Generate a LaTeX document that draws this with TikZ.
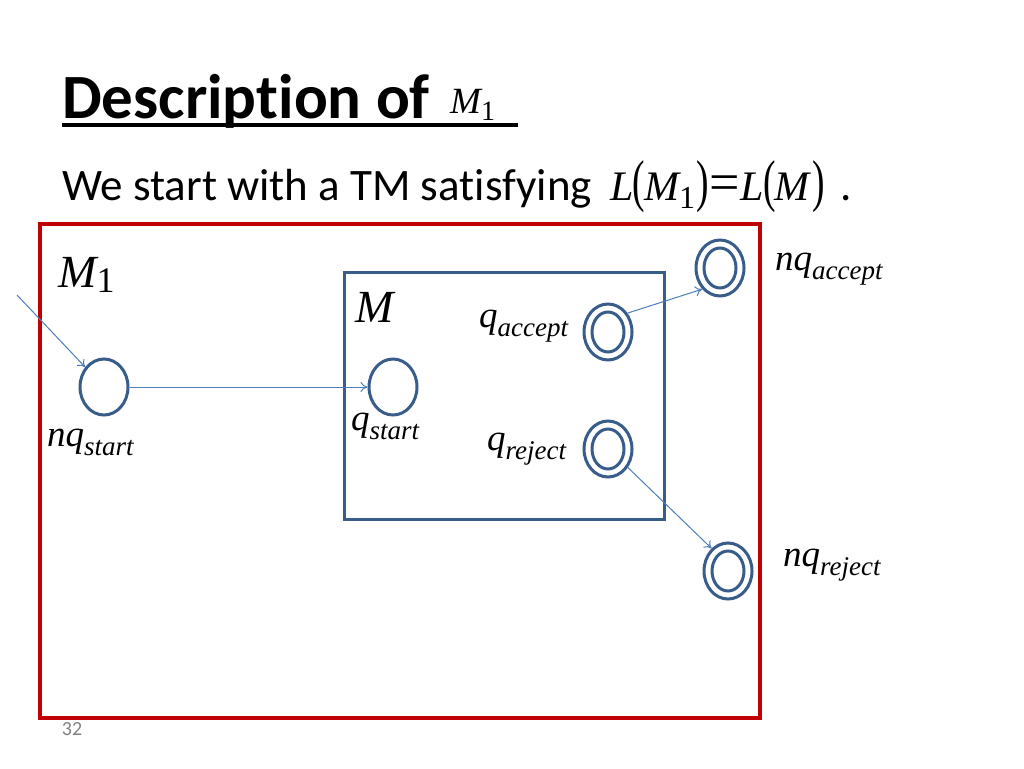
\documentclass[tikz,border=0pt]{standalone}
\usepackage{fontspec}
\setmainfont{Carlito}[Ligatures={NoCommon,NoContextual}]
\newfontfamily\tms{Liberation Serif}
\usetikzlibrary{shapes.geometric,arrows.meta}
\definecolor{redbox}{HTML}{C00000}
\definecolor{bluebox}{HTML}{385D8A}
\definecolor{arrowblue}{HTML}{4A7EBB}
\newcommand\fs[1]{\fontsize{#1}{#1}\selectfont}
\newcommand\tpar[1]{{\fs{50}\upshape\scalebox{0.75}[1.15]{#1}}}
\tikzset{
  stateO/.style={ellipse,draw=bluebox,line width=3pt,minimum width=48pt,minimum height=56pt,inner sep=0pt},
  stateI/.style={ellipse,draw=bluebox,line width=3pt,minimum width=32pt,minimum height=40pt,inner sep=0pt},
  conn/.style={draw=arrowblue,line width=1pt,-{To[length=7pt,width=10pt]}},
  lbl/.style={inner sep=0pt,text=black},
}
\begin{document}
\begin{tikzpicture}[x=1pt,y=-1pt]
\useasboundingbox (0,0) rectangle (1024,768);
% title
\node[lbl,anchor=base west] (title) at (62,118) {\fs{63}\bfseries Descrip\kern0pt tion of};
\node[lbl,anchor=base west] (titleM) at (450,113) {\fs{37}\tms\itshape M\raisebox{-0.2em}{\upshape\fs{28}1}};
\draw[line width=4pt] (62,125) -- (518,125);
% body
\node[lbl,anchor=base west] (body) at (62,200) {\fs{45}We start with a TM satis\kern0pt fying};
\node[lbl,anchor=base west] (eq) at (610,200) {\fs{42}\tms\itshape L\kern-1pt\tpar{(}\kern-1pt M\raisebox{-0.2em}{\upshape\fs{32}1}\kern1pt\tpar{)}\kern1pt\raisebox{-0.02em}{\upshape\fs{54}=}\kern1pt L\kern-1pt\tpar{(}\kern-1pt M\kern3pt\tpar{)}};
\node[lbl,anchor=base west] (dot) at (840,200) {\fs{45}.};
% page number
\node[lbl,text=gray] (pg) at (72,729) {\fs{20}32};
% boxes
\draw[redbox,line width=4pt] (40,224) rectangle (760,718);
\draw[bluebox,line width=3pt] (344,272) rectangle (664,519);
% labels
\node[lbl,anchor=base west] (m1) at (58,287) {\fs{46}\tms\itshape M\raisebox{-0.12em}{\upshape\fs{36}1}};
\node[lbl,anchor=base west] (m) at (355,322) {\fs{46}\tms\itshape M};
% states
\node[stateO] (nqs) at (104,387) {};
\node[stateO] (qs) at (393,387) {};
\node[stateO] (qa) at (608,332) {};
\node[stateI] (qai) at (608,332) {};
\node[stateO] (qr) at (608,449) {};
\node[stateI] (qri) at (608,449) {};
\node[stateO] (nqa) at (720,268) {};
\node[stateI] (nqai) at (720,268) {};
\node[stateO] (nqr) at (728,571) {};
\node[stateI] (nqri) at (728,571) {};
% state labels
\node[lbl,anchor=base west] (lnqs) at (47,446) {\fs{37}\tms\itshape nq\raisebox{-0.25em}{\fs{27}start}};
\node[lbl,anchor=base west] (lqs) at (351,430) {\fs{37}\tms\itshape q\raisebox{-0.25em}{\fs{27}start}};
\node[lbl,anchor=base west] (lqa) at (479,327) {\fs{37}\tms\itshape q\raisebox{-0.25em}{\fs{27}accept}};
\node[lbl,anchor=base west] (lqr) at (487,450) {\fs{37}\tms\itshape q\raisebox{-0.25em}{\fs{27}reject}};
\node[lbl,anchor=base west] (lnqa) at (775,270) {\fs{37}\tms\itshape nq\raisebox{-0.25em}{\fs{27}accept}};
\node[lbl,anchor=base west] (lnqr) at (783,566) {\fs{37}\tms\itshape nq\raisebox{-0.25em}{\fs{27}reject}};
% connectors
\coordinate (entry) at (17,295);
\draw[conn] (entry) -- (nqs);
\draw[conn] (nqs) -- (qs);
\draw[conn] (qa.44) -- (nqa.230);
\draw[conn] (qr.-43) -- (nqr.126);
\end{tikzpicture}
\end{document}
